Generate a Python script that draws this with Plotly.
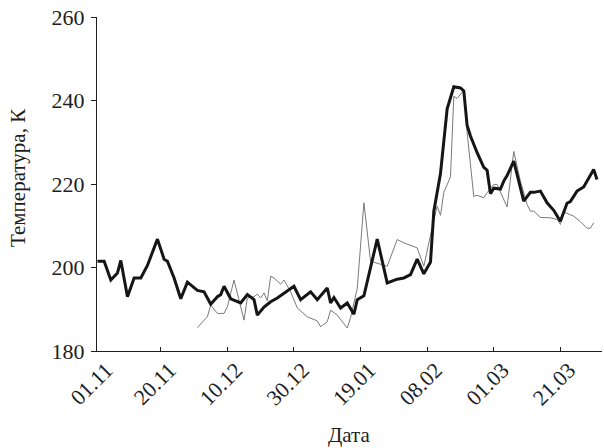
import plotly.graph_objects as go

# Day offset from 01.11 and temperature (K), bold series
thick_day = [0, 2, 4, 6, 7, 9, 11, 13, 15, 18, 20, 21, 23, 25, 27, 30, 32, 34, 36, 37,
             38, 40, 43, 45, 47, 48, 50, 52, 54, 56, 59, 61, 64, 66, 69, 70, 71, 73, 75, 77,
             78, 80, 84, 87, 90, 92, 94, 96, 98, 100, 101, 103, 104, 105, 107, 109, 110, 111, 112, 114,
             116, 117, 118, 119, 121, 122, 123, 125, 128, 130, 131, 133, 135, 137, 139, 141, 142, 144, 146, 148,
             149, 150]
thick_temp = [201.5, 201.5, 197.0, 198.7, 201.7, 193.0, 197.5, 197.5, 200.5, 206.8, 202.0, 201.5, 197.5, 192.5, 196.5, 194.5, 194.2, 191.2, 193.0, 193.5,
              195.5, 192.5, 191.5, 193.5, 192.3, 188.6, 190.5, 191.8, 192.7, 193.9, 195.5, 192.3, 194.2, 192.3, 195.1, 191.5, 192.8, 190.3, 191.5, 188.8,
              192.3, 193.2, 206.8, 196.3, 197.2, 197.5, 198.3, 202.0, 198.5, 201.3, 213.5, 222.5, 231.0, 238.0, 243.3, 243.0, 242.3, 234.0, 231.5, 227.5,
              224.0, 223.3, 217.7, 219.0, 218.8, 220.7, 222.0, 225.5, 215.9, 218.0, 218.0, 218.3, 215.5, 213.7, 211.1, 215.4, 215.8, 218.3, 219.3, 221.9,
              223.5, 221.1]

# Thin series
thin_day = [30, 33, 34, 36, 38, 39, 41, 42, 44, 45, 47, 48, 49, 50, 51, 52, 53, 55, 56, 58,
            60, 63, 64, 66, 67, 69, 70, 72, 75, 76, 78, 80, 82, 87, 90, 92, 96, 97, 98, 100,
            102, 103, 104, 106, 107, 108, 110, 111, 113, 114, 116, 117, 119, 120, 122, 123, 125, 127, 129, 130,
            131, 133, 136, 138, 139, 140, 143, 145, 147, 148, 149]
thin_temp = [185.6, 188.2, 191.0, 189.0, 189.0, 190.6, 197.0, 193.9, 187.4, 192.7, 193.0, 193.6, 192.7, 193.9, 192.0, 197.9, 197.5, 196.0, 197.0, 194.2,
             190.3, 188.2, 187.9, 187.2, 185.8, 187.0, 189.8, 188.6, 185.5, 188.0, 195.0, 215.5, 201.5, 200.3, 206.7, 205.9, 204.7, 202.7, 200.3, 207.7,
             214.7, 212.5, 218.0, 221.7, 241.0, 240.5, 242.5, 232.3, 217.0, 217.3, 216.7, 217.9, 219.9, 219.9, 216.5, 214.5, 227.8, 220.7, 215.1, 213.5,
             213.5, 212.0, 211.9, 211.5, 210.3, 213.3, 212.3, 211.0, 209.4, 209.4, 210.7]

tick_days = [0, 19, 39, 59, 79, 99, 119, 139]
tick_text = ["01.11", "20.11", "10.12", "30.12", "19.01", "08.02", "01.03", "21.03"]
y_ticks = [180, 200, 220, 240, 260]

FONT = "'Liberation Serif', 'Times New Roman', 'DejaVu Serif', serif"
INK = "#1e1e1e"
X_RANGE = [-0.15, 151.5]
LABEL_OFFSET = 2.6  # slanted date labels sit a little right of their ticks

fig = go.Figure()
fig.add_trace(go.Scatter(x=thin_day, y=thin_temp, mode="lines",
                         line=dict(color="#7a7a7a", width=1), showlegend=False))
fig.add_trace(go.Scatter(x=thick_day, y=thick_temp, mode="lines",
                         line=dict(color="#151515", width=3), showlegend=False))
# empty trace that carries the label axis
fig.add_trace(go.Scatter(x=[None], y=[None], xaxis="x2", mode="lines",
                         showlegend=False, hoverinfo="skip"))

annotations = [
    dict(x=0.5, y=-0.252, xref="paper", yref="paper", text="Дата",
         showarrow=False, xanchor="center", yanchor="middle",
         font=dict(family=FONT, size=21, color=INK)),
    dict(x=-0.155, y=0.52, xref="paper", yref="paper", text="Температура, К",
         showarrow=False, textangle=-90, xanchor="center", yanchor="middle",
         font=dict(family=FONT, size=21, color=INK)),
]

fig.update_layout(
    width=604, height=448,
    margin=dict(l=97, r=2, t=17, b=97),
    paper_bgcolor="white", plot_bgcolor="white",
    xaxis=dict(range=X_RANGE, tickvals=tick_days, showticklabels=False,
               showline=True, linecolor=INK, linewidth=1.4, ticks="inside", ticklen=4,
               tickcolor=INK, showgrid=False, zeroline=False),
    xaxis2=dict(range=[X_RANGE[0] - LABEL_OFFSET, X_RANGE[1] - LABEL_OFFSET],
                overlaying="x", side="bottom", anchor="y",
                tickvals=tick_days, ticktext=tick_text, tickangle=-45,
                ticks="", showline=False, showgrid=False, zeroline=False,
                ticklabelstandoff=1,
                tickfont=dict(family=FONT, size=22, color=INK)),
    yaxis=dict(range=[180, 260], tickvals=y_ticks, showline=True, linecolor=INK, linewidth=1.4,
               ticks="outside", ticklen=5, tickcolor=INK, showgrid=False, zeroline=False,
               ticklabelstandoff=2,
               tickfont=dict(family=FONT, size=22, color=INK)),
    annotations=annotations,
)

fig.write_html("out.html")
